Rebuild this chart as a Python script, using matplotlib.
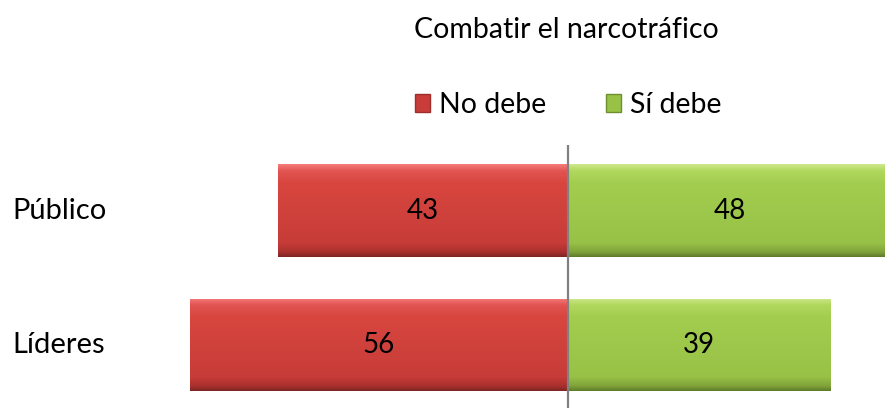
import matplotlib
matplotlib.use("Agg")
import matplotlib.pyplot as plt
import numpy as np
from matplotlib.patches import Patch
from matplotlib.colors import LinearSegmentedColormap

categories = ["Público", "Líderes"]
no_debe = [43, 56]
si_debe = [48, 39]
series_names = ["No debe", "Sí debe"]
title = "Combatir el narcotráfico"

plt.rcParams['font.family'] = ['Lato', 'DejaVu Sans']

W, H = 885, 408
fig = plt.figure(figsize=(W / 100, H / 100), dpi=100)
ax = fig.add_axes([150 / W, 0, 1 - 150 / W, (408 - 145) / H])

ypos = np.arange(len(categories))[::-1]  # Público top
bh = 0.69

red_cmap = LinearSegmentedColormap.from_list(
    "r", [(0, "#F47C7A"), (0.07, "#E25452"), (0.2, "#D8463F"), (0.85, "#C73C38"), (0.95, "#A8302D"), (1, "#7E2624")])
green_cmap = LinearSegmentedColormap.from_list(
    "g", [(0, "#CDE78C"), (0.07, "#B1D85E"), (0.2, "#A3CD4E"), (0.85, "#98C247"), (0.95, "#7FA23A"), (1, "#5F7C2A")])

grad = np.linspace(0, 1, 128).reshape(-1, 1)

def shade(bars, cmap):
    for b in bars:
        x0, y0 = b.get_x(), b.get_y()
        w, h = b.get_width(), b.get_height()
        im = ax.imshow(grad, cmap=cmap, aspect='auto',
                       extent=[x0, x0 + w, y0, y0 + h], origin='upper', zorder=2)
        im.set_clip_path(b)

bars_no = ax.barh(ypos, [-v for v in no_debe], height=bh, color="#D04240", zorder=1,
                  edgecolor="none")
bars_si = ax.barh(ypos, si_debe, height=bh, color="#9CC649", zorder=1, edgecolor="none")
shade(bars_no, red_cmap)
shade(bars_si, green_cmap)

for y, a, b in zip(ypos, no_debe, si_debe):
    ax.text(-a / 2, y, str(a), ha='center', va='center', fontsize=20, color='black', zorder=4)
    ax.text(b / 2, y, str(b), ha='center', va='center', fontsize=20, color='black', zorder=4)

ax.axvline(0, color='#808080', lw=1.6, zorder=5)

ax.set_xlim(-61.97, 47.08)
ax.set_ylim(-0.47, 1.49)
ax.axis('off')

for y, c in zip(ypos, categories):
    fig.text(12 / W, ax.transData.transform((0, y))[1] / H, c, ha='left', va='center',
             fontsize=21, color='black')

fig.text(566 / W, 1 - 30 / H, title, ha='center', va='center', fontsize=20.5, color='black')

handles = [Patch(facecolor="#C83C3A", edgecolor="#9E2E2C"),
           Patch(facecolor="#98C246", edgecolor="#6E8F30")]
fig.legend(handles, series_names, loc='center', bbox_to_anchor=(568 / W, 1 - 105 / H),
           ncol=2, frameon=False, fontsize=20.5, handlelength=0.55, handleheight=0.55,
           handletextpad=0.3, columnspacing=2.1)

fig.savefig("out.png", dpi=100)
